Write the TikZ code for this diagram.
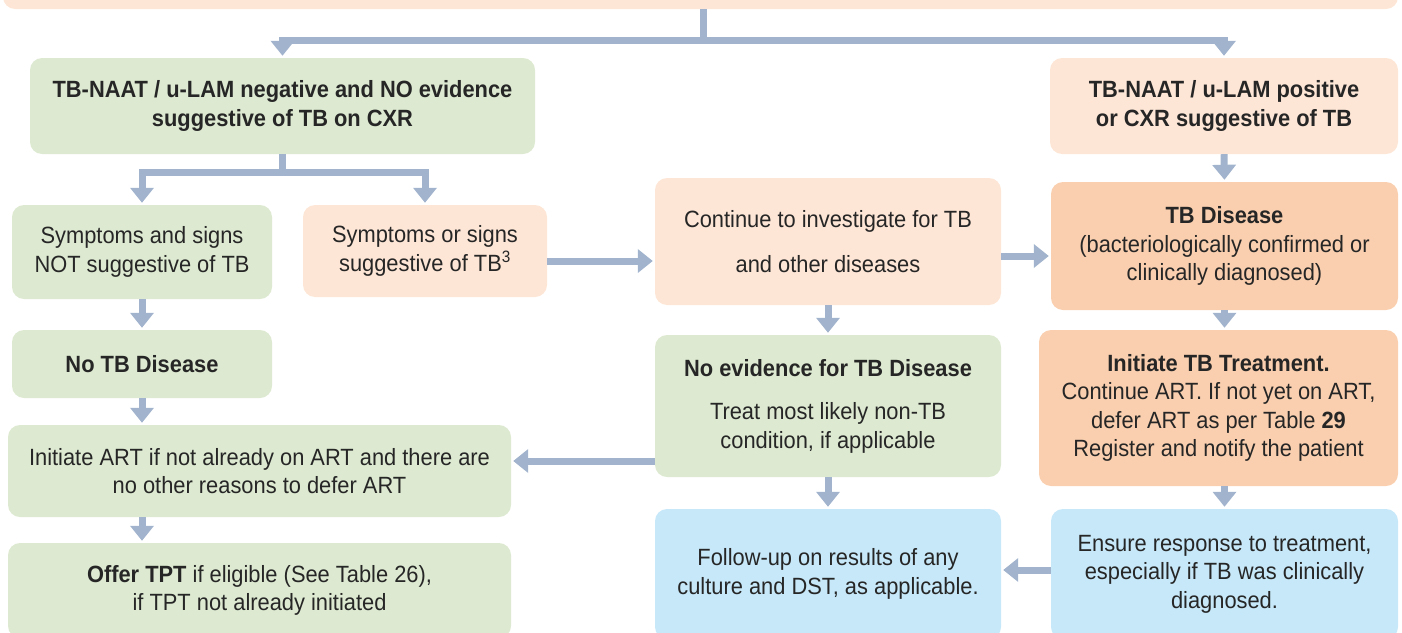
\documentclass[tikz,border=0pt]{standalone}
\usepackage{fontspec}
\setmainfont{Liberation Sans}[FakeStretch=0.93]
\usetikzlibrary{arrows.meta}

\definecolor{boxgreen}{HTML}{DDEAD1}
\definecolor{boxpeach}{HTML}{FDE6D6}
\definecolor{boxorange}{HTML}{F9CFAF}
\definecolor{boxblue}{HTML}{C7E8F8}
\definecolor{flowblue}{HTML}{A2B4CD}
\definecolor{textgray}{HTML}{262626}

\tikzset{
  box/.style={rounded corners=12pt, align=center, inner sep=0pt, text=textgray,
    font=\fontsize{23.5}{28.5}\selectfont},
  greenbox/.style={box, fill=boxgreen},
  peachbox/.style={box, fill=boxpeach},
  orangebox/.style={box, fill=boxorange},
  bluebox/.style={box, fill=boxblue},
  flow/.style={draw=flowblue, line width=7pt, -{Triangle[width=23pt,length=15pt]}, shorten >=2pt},
}

\begin{document}
\begin{tikzpicture}[x=1pt, y=-1pt]
  \useasboundingbox (0,0) rectangle (1402,632);
  \clip (0,0) rectangle (1402,632);

  % boxes
  \node[peachbox, minimum width=1395pt, minimum height=49pt] (top) at (700.5,-15.5) {};
  \node[greenbox, minimum width=505pt, minimum height=96pt] (negA) at (282.5,106)
    {\textbf{TB-NAAT / u-LAM negative and NO evidence}\\\textbf{suggestive of TB on CXR}};
  \node[peachbox, minimum width=348pt, minimum height=96pt] (posB) at (1224,106)
    {\textbf{TB-NAAT / u-LAM positive}\\\textbf{or CXR suggestive of TB}};
  \node[greenbox, minimum width=260pt, minimum height=94pt] (symNo) at (142,252)
    {Symptoms and signs\\NOT suggestive of TB};
  \node[peachbox, minimum width=244pt, minimum height=92pt] (symYes) at (425,251)
    {Symptoms or signs\\suggestive of TB\textsuperscript{3}};
  \node[peachbox, minimum width=346pt, minimum height=127pt] (invest) at (828,241.5)
    {Continue to investigate for TB\\[16pt]and other diseases};
  \node[orangebox, minimum width=347pt, minimum height=128pt] (disease) at (1224.5,246)
    {\textbf{TB Disease}\\(bacteriologically confirmed or\\clinically diagnosed)};
  \node[greenbox, minimum width=260pt, minimum height=68pt] (noTB) at (142,364)
    {\textbf{No TB Disease}};
  \node[greenbox, minimum width=346pt, minimum height=142pt] (noEvid) at (828,406)
    {\textbf{No evidence for TB Disease}\\[15pt]Treat most likely non-TB\\condition, if applicable};
  \node[orangebox, minimum width=359pt, minimum height=156pt] (treat) at (1218.5,408)
    {\textbf{Initiate TB Treatment.}\\Continue ART. If not yet on ART,\\defer ART as per Table \textbf{29}\\Register and notify the patient};
  \node[greenbox, minimum width=503pt, minimum height=92pt] (initART) at (259.5,471)
    {Initiate ART if not already on ART and there are\\no other reasons to defer ART};
  \node[greenbox, minimum width=503pt, minimum height=95pt] (offerTPT) at (259.5,590.5)
    {\textbf{Offer TPT} if eligible (See Table 26),\\if TPT not already initiated};
  \node[bluebox, minimum width=346pt, minimum height=130pt] (follow) at (828,574)
    {Follow-up on results of any\\culture and DST, as applicable.};
  \node[bluebox, minimum width=347pt, minimum height=130pt] (ensure) at (1224.5,574)
    {Ensure response to treatment,\\especially if TB was clinically\\diagnosed.};

  % connectors
  \coordinate (forkTop) at (703,40);
  \draw[flow, -] (top.south -| forkTop) -- (forkTop);
  \draw[flow] (forkTop) -| (negA.north);
  \draw[flow] (forkTop) -| (posB.north);

  \coordinate (forkNeg) at (282,172);
  \draw[flow, -] (negA.south -| forkNeg) -- (forkNeg);
  \draw[flow] (forkNeg) -| (symNo.north);
  \draw[flow] (forkNeg) -| (symYes.north);

  \draw[flow] ([yshift=-10pt]symYes.east) -- ([yshift=-10pt]symYes.east -| invest.west);
  \draw[flow] ([yshift=-14.5pt]invest.east) -- ([yshift=-14.5pt]invest.east -| disease.west);
  \draw[flow] (posB.south) -- (disease.north);
  \draw[flow] (disease.south) -- (disease.south |- treat.north);
  \draw[flow] (treat.south -| disease.south) -- (ensure.north);
  \draw[flow] ([yshift=4pt]ensure.west) -- ([yshift=4pt]ensure.west -| follow.east);
  \draw[flow] (invest.south) -- (noEvid.north);
  \draw[flow] (noEvid.south) -- (follow.north);
  \draw[flow] ([yshift=-55pt]noEvid.west) -- ([yshift=-55pt]noEvid.west -| initART.east);
  \draw[flow] (symNo.south) -- (noTB.north);
  \draw[flow] (noTB.south) -- (noTB.south |- initART.north);
  \draw[flow] (initART.south -| noTB.south) -- (offerTPT.north -| noTB.south);
\end{tikzpicture}
\end{document}
